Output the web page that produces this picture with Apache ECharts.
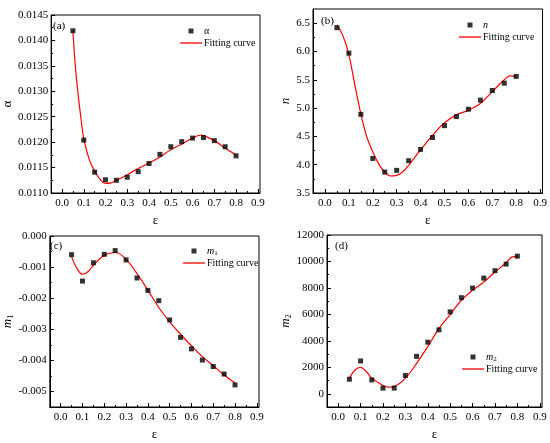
<!DOCTYPE html>
<html>
<head>
<meta charset="utf-8">
<script src="https://cdn.jsdelivr.net/npm/echarts@6/dist/echarts.min.js"></script>
<style>
  html, body { margin: 0; padding: 0; background: #fff; }
  #chart { width: 550px; height: 443px; }
</style>
</head>
<body>
<div id="chart"></div>
<script>
// strain values of the measured points
var eps = [0.05, 0.1, 0.15, 0.2, 0.25, 0.3, 0.35, 0.4, 0.45, 0.5, 0.55, 0.6, 0.65, 0.7, 0.75, 0.8];

// measured points
var alphaPts = [0.01419, 0.01204, 0.01141, 0.01126, 0.01125, 0.01131, 0.01142, 0.01158, 0.01176, 0.01191, 0.01201, 0.01208, 0.01209, 0.01203, 0.01191, 0.01173];
var nPts = [6.42, 5.97, 4.89, 4.11, 3.87, 3.90, 4.07, 4.27, 4.48, 4.69, 4.85, 4.98, 5.14, 5.31, 5.44, 5.56];
var m1Pts = [-0.00060, -0.00145, -0.00086, -0.00059, -0.00047, -0.00077, -0.00135, -0.00175, -0.00208, -0.00270, -0.00326, -0.00363, -0.00399, -0.00420, -0.00444, -0.00479];
var m2Pts = [1100, 2480, 1050, 430, 430, 1380, 2830, 3900, 4830, 6190, 7260, 7990, 8740, 9300, 9800, 10400];

// fitting curves
var alphaFitX = [0.05, 0.062, 0.075, 0.0875, 0.1, 0.125, 0.15, 0.175, 0.2, 0.225, 0.25, 0.3, 0.35, 0.4, 0.45, 0.5, 0.55, 0.6, 0.64, 0.65, 0.7, 0.75, 0.8];
var alphaFitY = [0.01419, 0.01345, 0.01290, 0.01245, 0.01207, 0.01166, 0.01143, 0.01127, 0.01119, 0.01120, 0.01125, 0.01136, 0.01148, 0.01159, 0.01171, 0.01185, 0.01196, 0.01208, 0.01214, 0.01213, 0.01203, 0.01188, 0.01175];
var nFitX = [0.05, 0.075, 0.1, 0.125, 0.15, 0.175, 0.2, 0.225, 0.25, 0.275, 0.3, 0.325, 0.35, 0.4, 0.45, 0.5, 0.55, 0.6, 0.65, 0.7, 0.75, 0.775, 0.8];
var nFitY = [6.47, 6.28, 5.94, 5.41, 4.90, 4.49, 4.23, 4.01, 3.87, 3.80, 3.81, 3.87, 3.99, 4.26, 4.52, 4.74, 4.88, 4.96, 5.08, 5.29, 5.50, 5.57, 5.56];
var m1FitX = [0.05, 0.075, 0.1, 0.125, 0.15, 0.2, 0.25, 0.3, 0.35, 0.4, 0.45, 0.5, 0.55, 0.6, 0.65, 0.7, 0.75, 0.8];
var m1FitY = [-0.00067, -0.00105, -0.00123, -0.00115, -0.00094, -0.00062, -0.00053, -0.00075, -0.00121, -0.00174, -0.00230, -0.00276, -0.00316, -0.00353, -0.00388, -0.00417, -0.00447, -0.00473];
var m2FitX = [0.05, 0.075, 0.1, 0.125, 0.15, 0.2, 0.225, 0.25, 0.3, 0.35, 0.4, 0.45, 0.5, 0.55, 0.6, 0.65, 0.7, 0.75, 0.775, 0.8];
var m2FitY = [1180, 1800, 2000, 1680, 1180, 630, 500, 550, 1180, 2300, 3560, 4940, 5990, 7070, 7820, 8450, 9200, 9900, 10330, 10380];

// tick values
var xTicks = [0, 0.1, 0.2, 0.3, 0.4, 0.5, 0.6, 0.7, 0.8, 0.9];
var xMinor = [0.05, 0.15, 0.25, 0.35, 0.45, 0.55, 0.65, 0.75, 0.85];
var alphaTicks = [0.011, 0.0115, 0.012, 0.0125, 0.013, 0.0135, 0.014, 0.0145];
var alphaMinor = [0.01125, 0.01175, 0.01225, 0.01275, 0.01325, 0.01375, 0.01425];
var nTicks = [3.5, 4.0, 4.5, 5.0, 5.5, 6.0, 6.5];
var nMinor = [3.75, 4.25, 4.75, 5.25, 5.75, 6.25];
var m1Ticks = [-0.005, -0.004, -0.003, -0.002, -0.001, 0];
var m1Minor = [-0.0055, -0.0045, -0.0035, -0.0025, -0.0015, -0.0005];
var m2Ticks = [0, 2000, 4000, 6000, 8000, 10000, 12000];
var m2Minor = [-1000, 1000, 3000, 5000, 7000, 9000, 11000];

var FONT = 'Liberation Serif';
var rich = {
  i: { fontFamily: FONT, fontStyle: 'italic', fontSize: 13, color: '#000' },
  s: { fontFamily: FONT, fontSize: 8, color: '#000', verticalAlign: 'bottom', padding: [6, 0, 0, 0] },
  li: { fontFamily: FONT, fontStyle: 'italic', fontSize: 10, color: '#000' },
  ls: { fontFamily: FONT, fontSize: 7, color: '#000', padding: [5, 0, 0, 0] }
};

var panels = [
  { tag: '(a)', grid: { left: 46, top: 15, width: 214, height: 178 },
    yMin: 0.011, yMax: 0.0145, yTicks: alphaTicks, yMinor: alphaMinor, dec: 4,
    yName: 'α', yGap: 29, pts: alphaPts, fx: alphaFitX, fy: alphaFitY,
    ptName: 'α', legend: { left: 180, top: 25 }, label: [53, 21] },
  { tag: '(b)', grid: { left: 313, top: 9, width: 230, height: 184 },
    yMin: 3.5, yMax: 6.75, yTicks: nTicks, yMinor: nMinor, dec: 1,
    yName: '{i|n}', yGap: 17, pts: nPts, fx: nFitX, fy: nFitY,
    ptName: 'n', legend: { left: 459, top: 19 }, label: [321, 16] },
  { tag: '(c)', grid: { left: 45, top: 236, width: 214, height: 171 },
    yMin: -0.0055, yMax: 0, yTicks: m1Ticks, yMinor: m1Minor, dec: 3,
    yName: '{i|m}{s|1}', yGap: 28, pts: m1Pts, fx: m1FitX, fy: m1FitY,
    ptName: 'm1', legend: { left: 183, top: 245 }, label: [50, 241] },
  { tag: '(d)', grid: { left: 327, top: 235, width: 215, height: 172 },
    yMin: -1000, yMax: 12000, yTicks: m2Ticks, yMinor: m2Minor, dec: 0,
    yName: '{i|m}{s|2}', yGap: 32, pts: m2Pts, fx: m2FitX, fy: m2FitY,
    ptName: 'm2', legend: { left: 462, top: 351 }, label: [335, 241] }
];

function legendName(name) {
  if (name === 'n') return '{li|n}';
  if (name === 'm1') return '{li|m}{ls|1}';
  if (name === 'm2') return '{li|m}{ls|2}';
  return name;
}

var option = { animation: false, grid: [], xAxis: [], yAxis: [], series: [], legend: [], title: [] };

panels.forEach(function (p, k) {
  option.grid.push(Object.assign({ show: true, borderColor: '#000', borderWidth: 1 }, p.grid));

  // main axes
  option.xAxis.push({
    type: 'value', gridIndex: k, min: -0.05, max: 0.91,
    name: 'ε', nameLocation: 'middle', nameGap: 21,
    nameTextStyle: { fontFamily: FONT, fontSize: 13, color: '#000' },
    axisLine: { onZero: false, lineStyle: { color: '#000', width: 1 } },
    axisTick: { inside: true, length: 4, customValues: xTicks, lineStyle: { color: '#000' } },
    axisLabel: { customValues: xTicks, margin: 5, fontFamily: FONT, fontSize: 11, color: '#000',
      formatter: function (v) { return v.toFixed(1); } },
    splitLine: { show: false }
  });
  option.yAxis.push({
    type: 'value', gridIndex: k, min: p.yMin, max: p.yMax,
    name: p.yName, nameLocation: 'middle', nameGap: p.yGap, nameRotate: 90,
    nameTextStyle: { fontFamily: FONT, fontSize: 13, color: '#000', rich: rich },
    axisLine: { onZero: false, lineStyle: { color: '#000', width: 1 } },
    axisTick: { inside: true, length: 4, customValues: p.yTicks, lineStyle: { color: '#000' } },
    axisLabel: { customValues: p.yTicks, margin: 3, fontFamily: FONT, fontSize: 11, color: '#000',
      formatter: (function (d) { return function (v) { return v.toFixed(d); }; })(p.dec) },
    splitLine: { show: false }
  });

  option.title.push({ text: p.tag, left: p.label[0], top: p.label[1], padding: 0,
    textStyle: { fontFamily: FONT, fontSize: 11, fontWeight: 'normal', color: '#000' } });

  option.legend.push({
    orient: 'vertical', left: p.legend.left, top: p.legend.top, padding: 0,
    itemWidth: 22, itemHeight: 5, itemGap: 0,
    formatter: legendName,
    textStyle: { fontFamily: FONT, fontSize: 10, lineHeight: 12, color: '#000', rich: rich, padding: [0, 0, 0, -3] },
    data: [
      { name: p.ptName, icon: 'path://M0,0H1V1H0Z' },
      { name: 'Fitting curve', icon: 'path://M0,0H22V1.3H0Z' }
    ]
  });

  option.series.push({
    name: 'Fitting curve', type: 'line', xAxisIndex: k, yAxisIndex: k,
    symbol: 'none', smooth: 0.4,
    lineStyle: { color: '#ff0000', width: 1.2 },
    itemStyle: { color: '#ff0000' },
    data: p.fx.map(function (x, i) { return [x, p.fy[i]]; })
  });
  option.series.push({
    name: p.ptName, type: 'scatter', xAxisIndex: k, yAxisIndex: k,
    symbol: 'rect', symbolSize: 5, z: 3,
    itemStyle: { color: '#000' },
    data: eps.map(function (x, i) { return [x, p.pts[i]]; })
  });
});

// minor tick overlay axes
panels.forEach(function (p, k) {
  option.xAxis.push({
    type: 'value', gridIndex: k, min: -0.05, max: 0.91, position: 'bottom',
    axisLine: { show: false, onZero: false },
    axisTick: { inside: true, length: 2, customValues: xMinor, lineStyle: { color: '#000' } },
    axisLabel: { show: false }, splitLine: { show: false }
  });
  option.yAxis.push({
    type: 'value', gridIndex: k, min: p.yMin, max: p.yMax, position: 'left',
    axisLine: { show: false, onZero: false },
    axisTick: { inside: true, length: 2, customValues: p.yMinor, lineStyle: { color: '#000' } },
    axisLabel: { show: false }, splitLine: { show: false }
  });
});

var chart = echarts.init(document.getElementById('chart'));
chart.setOption(option);
</script>
</body>
</html>
